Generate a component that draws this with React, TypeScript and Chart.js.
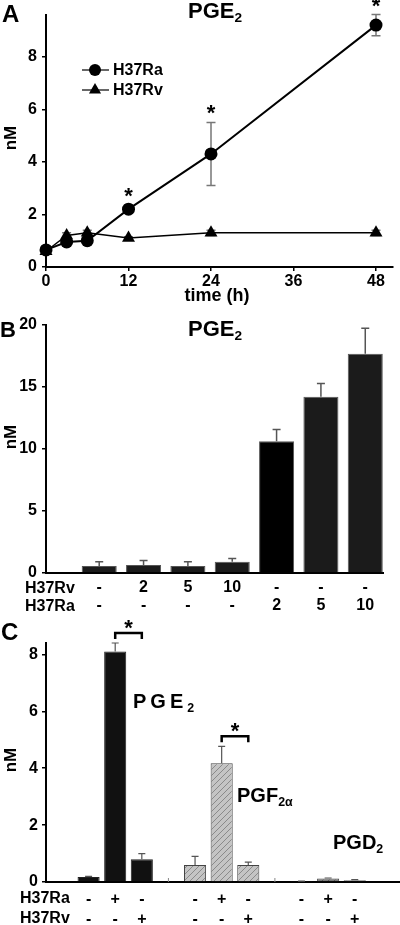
import React, { useEffect, useRef } from "react";
import { Chart, registerables } from "chart.js";

Chart.register(...registerables);

const FONT = "'Liberation Sans', Arial, Helvetica, sans-serif";

// ---------- Panel A : PGE2 time course ----------
const timeHours = [0, 3, 6, 12, 24, 48];
const ra37Values = [0.65, 0.95, 1.0, 2.2, 4.3, 9.2];
const ra37Errors = [0.05, 0.1, 0.1, 0.15, 1.2, 0.4];
const rv37Values = [0.6, 1.2, 1.3, 1.1, 1.3, 1.3];
const rv37Errors = [0.05, 0.1, 0.1, 0.05, 0.1, 0.1];
const significantTimesA = [12, 24, 48];
const xTicksA = [0, 12, 24, 36, 48];
const yTicksA = [0, 2, 4, 6, 8];
const seriesLabelsA = ["H37Ra", "H37Rv"];

// ---------- Panel B : PGE2 dose response ----------
const positionsB = [1, 2, 3, 4, 5, 6, 7];
const rvDoseB = ["-", "2", "5", "10", "-", "-", "-"];
const raDoseB = ["-", "-", "-", "-", "2", "5", "10"];
const valuesB = [0.56, 0.64, 0.56, 0.9, 10.6, 14.2, 17.65];
const errorsB = [0.34, 0.36, 0.34, 0.27, 0.95, 1.05, 2.05];
const yTicksB = [0, 5, 10, 15, 20];

// ---------- Panel C : prostanoids ----------
const positionsC = [1, 2, 3, 5, 6, 7, 9, 10, 11];
const raRowC = ["-", "+", "-", "-", "+", "-", "-", "+", "-"];
const rvRowC = ["-", "-", "+", "-", "-", "+", "-", "-", "+"];
const valuesC = [0.18, 8.1, 0.8, 0.6, 4.17, 0.6, 0.02, 0.12, 0.06];
const errorsC = [0.02, 0.3, 0.2, 0.3, 0.6, 0.1, 0.01, 0.02, 0.02];
const groupOfC = [0, 0, 0, 1, 1, 1, 2, 2, 2];
const separatorsC = [4, 8];
const bracketsC = [
  [2, 3],
  [6, 7],
];
const yTicksC = [0, 2, 4, 6, 8];

// ---------- helpers ----------
const tickFont = { family: FONT, size: 16, weight: "bold" as const };

function fixedTicks(values: number[]) {
  return (scale: any) => {
    scale.ticks = values.map((v) => ({ value: v }));
  };
}

function drawErrorBars(chart: any, o: any) {
  const ctx = chart.ctx;
  const yScale = chart.scales.y;
  ctx.save();
  ctx.strokeStyle = o.color;
  ctx.lineWidth = o.width;
  chart.data.datasets.forEach((ds: any, di: number) => {
    const errs = ds.errors;
    if (!errs) return;
    const meta = chart.getDatasetMeta(di);
    meta.data.forEach((el: any, i: number) => {
      const v = ds.data[i].y;
      const e = errs[i];
      const x = el.x;
      const top = yScale.getPixelForValue(v + e);
      const bot = o.upOnly ? yScale.getPixelForValue(v) : yScale.getPixelForValue(v - e);
      ctx.beginPath();
      ctx.moveTo(x, bot);
      ctx.lineTo(x, top);
      ctx.moveTo(x - o.cap, top);
      ctx.lineTo(x + o.cap, top);
      if (!o.upOnly) {
        ctx.moveTo(x - o.cap, bot);
        ctx.lineTo(x + o.cap, bot);
      }
      ctx.stroke();
    });
  });
  ctx.restore();
}

const errorBarPlugin = {
  id: "errorBars",
  beforeDatasetsDraw(chart: any, _a: any, o: any) {
    if (o.before) drawErrorBars(chart, o);
  },
  afterDatasetsDraw(chart: any, _a: any, o: any) {
    if (!o.before) drawErrorBars(chart, o);
  },
};

function drawStar(ctx: any, x: number, y: number) {
  ctx.save();
  ctx.fillStyle = "#000";
  ctx.font = `bold 22px ${FONT}`;
  ctx.textAlign = "center";
  ctx.textBaseline = "alphabetic";
  ctx.fillText("*", x, y + 12);
  ctx.restore();
}

const sigPluginA = {
  id: "sigA",
  afterDatasetsDraw(chart: any) {
    const xs = chart.scales.x;
    const ys = chart.scales.y;
    significantTimesA.forEach((t) => {
      const i = timeHours.indexOf(t);
      const top = ys.getPixelForValue(ra37Values[i] + ra37Errors[i]);
      drawStar(chart.ctx, xs.getPixelForValue(t), top - 14);
    });
  },
};

const legendPluginA = {
  id: "legendA",
  afterDraw(chart: any) {
    const ctx = chart.ctx;
    ctx.save();
    chart.data.datasets.forEach((ds: any, i: number) => {
      const y = 70 + i * 20;
      ctx.strokeStyle = "#000";
      ctx.lineWidth = 1.2;
      ctx.beginPath();
      ctx.moveTo(82, y);
      ctx.lineTo(109, y);
      ctx.stroke();
      ctx.fillStyle = "#000";
      ctx.beginPath();
      if (ds.pointStyle === "triangle") {
        const r = 7;
        ctx.moveTo(95, y - r);
        ctx.lineTo(95 + r * 0.866, y + r * 0.5);
        ctx.lineTo(95 - r * 0.866, y + r * 0.5);
        ctx.closePath();
      } else {
        ctx.arc(95, y, 6, 0, Math.PI * 2);
      }
      ctx.fill();
      ctx.font = `bold 16px ${FONT}`;
      ctx.textBaseline = "middle";
      ctx.textAlign = "left";
      ctx.fillText(ds.label, 113, y + 1);
    });
    ctx.restore();
  },
};

const bracketPluginC = {
  id: "bracketsC",
  afterDatasetsDraw(chart: any) {
    const ctx = chart.ctx;
    const xs = chart.scales.x;
    const ys = chart.scales.y;
    ctx.save();
    bracketsC.forEach(([p1, p2]) => {
      const i1 = positionsC.indexOf(p1);
      const i2 = positionsC.indexOf(p2);
      const topVal = Math.max(valuesC[i1] + errorsC[i1], valuesC[i2] + errorsC[i2]);
      const yb = ys.getPixelForValue(topVal) - 10;
      const x1 = xs.getPixelForValue(p1);
      const x2 = xs.getPixelForValue(p2);
      ctx.strokeStyle = "#000";
      ctx.lineWidth = 2.5;
      ctx.beginPath();
      ctx.moveTo(x1, yb + 6);
      ctx.lineTo(x1, yb);
      ctx.lineTo(x2, yb);
      ctx.lineTo(x2, yb + 6);
      ctx.stroke();
      drawStar(ctx, (x1 + x2) / 2, yb - 10);
    });
    // group separator marks on the baseline
    ctx.strokeStyle = "#888";
    ctx.lineWidth = 1;
    separatorsC.forEach((p) => {
      const x = xs.getPixelForValue(p);
      ctx.beginPath();
      ctx.moveTo(x, ys.getPixelForValue(0));
      ctx.lineTo(x, ys.getPixelForValue(0) - 4);
      ctx.stroke();
    });
    ctx.restore();
  },
};

function makeHatch(bg: string, line: string) {
  const c = document.createElement("canvas");
  c.width = 6;
  c.height = 6;
  const g = c.getContext("2d")!;
  g.fillStyle = bg;
  g.fillRect(0, 0, 6, 6);
  g.strokeStyle = line;
  g.lineWidth = 1;
  g.beginPath();
  g.moveTo(0, 6);
  g.lineTo(6, 0);
  g.moveTo(-1, 1);
  g.lineTo(1, -1);
  g.moveTo(5, 7);
  g.lineTo(7, 5);
  g.stroke();
  return g.createPattern(c, "repeat");
}

function yAxis(min: number, max: number, ticks: number[], width: number, padding: number) {
  return {
    type: "linear",
    min,
    max,
    afterBuildTicks: fixedTicks(ticks),
    afterFit: (s: any) => {
      s.width = width;
    },
    border: { color: "#000", width: 2 },
    grid: { drawOnChartArea: false, color: "#000", tickLength: 4, lineWidth: 1.5 },
    ticks: { color: "#000", font: tickFont, padding, autoSkip: false },
  };
}

function useChart(ref: any, factory: () => any) {
  useEffect(() => {
    const chart = new Chart(ref.current, factory());
    return () => chart.destroy();
  }, []);
}

const baseOptions = {
  responsive: false,
  animation: false,
  events: [],
  plugins: { legend: { display: false }, tooltip: { enabled: false }, title: { display: false } },
};

function PanelA() {
  const ref = useRef<HTMLCanvasElement>(null);
  useChart(ref, () => ({
    type: "line",
    data: {
      datasets: [
        {
          label: seriesLabelsA[0],
          data: timeHours.map((t, i) => ({ x: t, y: ra37Values[i] })),
          errors: ra37Errors,
          borderColor: "#000",
          backgroundColor: "#000",
          borderWidth: 2,
          pointStyle: "circle",
          pointRadius: 6.5,
          pointBorderWidth: 0,
          clip: false,
        },
        {
          label: seriesLabelsA[1],
          data: timeHours.map((t, i) => ({ x: t, y: rv37Values[i] })),
          errors: rv37Errors,
          borderColor: "#000",
          backgroundColor: "#000",
          borderWidth: 1.5,
          pointStyle: "triangle",
          pointRadius: 7.5,
          pointBorderWidth: 0,
          clip: false,
        },
      ],
    },
    options: {
      ...baseOptions,
      layout: { padding: { top: 14, right: 0, bottom: 0, left: 0 } },
      plugins: { ...baseOptions.plugins, errorBars: { before: true, color: "#777", width: 1.5, cap: 4.5, upOnly: false } },
      scales: {
        x: {
          type: "linear",
          min: 0,
          max: 50.4,
          afterBuildTicks: fixedTicks(xTicksA),
          afterFit: (s: any) => {
            s.height = 43;
          },
          border: { color: "#000", width: 2 },
          grid: { drawOnChartArea: false, color: "#000", tickLength: 4, lineWidth: 1.5 },
          ticks: { color: "#000", font: tickFont, padding: 1, autoSkip: false, maxRotation: 0 },
        },
        y: yAxis(0, 9.6, yTicksA, 46, 5),
      },
    },
    plugins: [errorBarPlugin, sigPluginA, legendPluginA],
  }));
  return <canvas ref={ref} width={400} height={310} style={{ position: "absolute", left: 0, top: 0 }} />;
}

function PanelB() {
  const ref = useRef<HTMLCanvasElement>(null);
  useChart(ref, () => ({
    type: "bar",
    data: {
      datasets: [
        {
          data: positionsB.map((p, i) => ({ x: p, y: valuesB[i] })),
          errors: errorsB,
          backgroundColor: positionsB.map((_, i) => (i === 4 ? "#000" : "#1b1b1b")),
          borderColor: "#555",
          borderWidth: 1,
          barPercentage: 0.79,
          categoryPercentage: 1,
        },
      ],
    },
    options: {
      ...baseOptions,
      layout: { padding: { top: 12, right: 17, bottom: 0, left: 0 } },
      plugins: { ...baseOptions.plugins, errorBars: { before: false, color: "#555", width: 1.5, cap: 4, upOnly: true } },
      scales: {
        x: {
          type: "linear",
          min: -0.2,
          max: 7.4,
          offset: false,
          afterBuildTicks: fixedTicks(positionsB),
          afterFit: (s: any) => {
            s.height = 42;
          },
          border: { color: "#000", width: 2 },
          grid: { drawOnChartArea: false, drawTicks: false, color: "#000" },
          ticks: {
            color: "#000",
            font: { ...tickFont, lineHeight: 18 / 16 },
            padding: 6,
            autoSkip: false,
            maxRotation: 0,
            callback: (v: number) => {
              const i = positionsB.indexOf(v);
              return [rvDoseB[i], raDoseB[i]];
            },
          },
        },
        y: yAxis(0, 20, yTicksB, 46, 5),
      },
    },
    plugins: [errorBarPlugin],
  }));
  return <canvas ref={ref} width={400} height={305} style={{ position: "absolute", left: 0, top: 310 }} />;
}

function PanelC() {
  const ref = useRef<HTMLCanvasElement>(null);
  useChart(ref, () => {
    const fills = [
      "#111",
      makeHatch("#c4c4c4", "#8a8a8a"),
      makeHatch("#7a7a7a", "#555"),
    ];
    return {
      type: "bar",
      data: {
        datasets: [
          {
            data: positionsC.map((p, i) => ({ x: p, y: valuesC[i] })),
            errors: errorsC,
            backgroundColor: groupOfC.map((g) => fills[g]),
            borderColor: groupOfC.map((g) => (g === 0 ? "#222" : "#444")),
            borderWidth: 1,
            barPercentage: 0.83,
            categoryPercentage: 1,
          },
        ],
      },
      options: {
        ...baseOptions,
        layout: { padding: { top: 28, right: 0, bottom: 0, left: 0 } },
        plugins: { ...baseOptions.plugins, errorBars: { before: false, color: "#555", width: 1.2, cap: 3.5, upOnly: true } },
        scales: {
          x: {
            type: "linear",
            min: -0.6,
            max: 12.7,
            offset: false,
            afterBuildTicks: fixedTicks(positionsC),
            afterFit: (s: any) => {
              s.height = 43;
            },
            border: { color: "#000", width: 2 },
            grid: { drawOnChartArea: false, drawTicks: false, color: "#000" },
            ticks: {
              color: "#000",
              font: { ...tickFont, lineHeight: 20 / 16 },
              padding: 8,
              autoSkip: false,
              maxRotation: 0,
              callback: (v: number) => {
                const i = positionsC.indexOf(v);
                return [raRowC[i], rvRowC[i]];
              },
            },
          },
          y: yAxis(0, 8.4, yTicksC, 46, 4),
        },
      },
      plugins: [errorBarPlugin, bracketPluginC],
    };
  });
  return <canvas ref={ref} width={400} height={310} style={{ position: "absolute", left: 0, top: 615 }} />;
}

const T = (style: any): any => ({
  position: "absolute",
  fontFamily: FONT,
  fontWeight: "bold",
  lineHeight: 1,
  color: "#000",
  whiteSpace: "nowrap",
  ...style,
});

const Sub = ({ children, shift = "0.3em" }: any) => (
  <span style={{ fontSize: "0.62em", position: "relative", top: shift }}>{children}</span>
);

const YLabel = ({ x, y }: { x: number; y: number }) => (
  <div style={T({ left: x, top: y, fontSize: 17, transform: "translate(-50%, -50%) rotate(-90deg)" })}>nM</div>
);

export default function App() {
  return (
    <div style={{ position: "absolute", left: 0, top: 0, width: 400, height: 925, background: "#fff", overflow: "hidden" }}>
      <PanelA />
      <PanelB />
      <PanelC />

      {/* Panel A texts */}
      <div style={T({ left: 2, top: 2, fontSize: 24 })}>A</div>
      <div style={T({ left: 188, top: 0, fontSize: 22 })}>
        PGE<Sub>2</Sub>
      </div>
      <YLabel x={10} y={138} />
      <div style={T({ left: 217, top: 286, fontSize: 18, transform: "translateX(-50%)" })}>time (h)</div>

      {/* Panel B texts */}
      <div style={T({ left: 0, top: 319, fontSize: 22 })}>B</div>
      <div style={T({ left: 188, top: 318, fontSize: 22 })}>
        PGE<Sub>2</Sub>
      </div>
      <YLabel x={10} y={437} />
      <div style={T({ left: 25, top: 579.5, fontSize: 16 })}>H37Rv</div>
      <div style={T({ left: 25, top: 597.5, fontSize: 16 })}>H37Ra</div>

      {/* Panel C texts */}
      <div style={T({ left: 1, top: 620, fontSize: 24 })}>C</div>
      <YLabel x={10} y={760} />
      <div style={T({ left: 133, top: 691, fontSize: 20, letterSpacing: 4 })}>
        PGE<Sub>2</Sub>
      </div>
      <div style={T({ left: 237, top: 785, fontSize: 20 })}>
        PGF<Sub shift="0.35em">2α</Sub>
      </div>
      <div style={T({ left: 333, top: 832, fontSize: 20 })}>
        PGD<Sub>2</Sub>
      </div>
      <div style={T({ left: 20, top: 889.5, fontSize: 16 })}>H37Ra</div>
      <div style={T({ left: 20, top: 909.5, fontSize: 16 })}>H37Rv</div>
    </div>
  );
}
